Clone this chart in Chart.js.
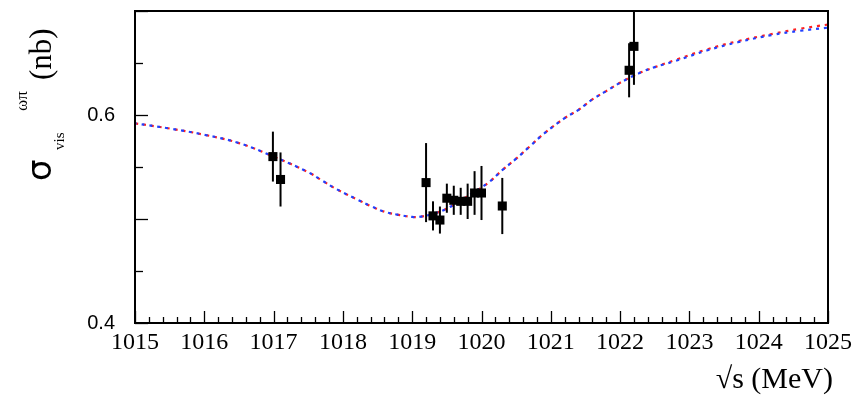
<!DOCTYPE html>
<html>
<head>
<meta charset="utf-8">
<script src="https://cdn.jsdelivr.net/npm/chart.js@4/dist/chart.umd.min.js"></script>
<style>
html,body{margin:0;padding:0;background:#fff;}
#wrap{width:862px;height:403px;}
</style>
</head>
<body>
<div id="wrap"><canvas id="c" width="862" height="403"></canvas></div>
<script>
// Model curves (sqrt(s) in MeV, visible cross section in nb)
const curveX    = [1015.0,1015.5,1016.0,1016.5,1017.0,1017.5,1017.7,1017.9,1018.2,1018.4,1018.6,1018.8,1019.0,1019.1,1019.3,1019.5,1019.8,1020.1,1020.3,1020.5,1020.7,1020.9,1021.2,1021.4,1021.6,1021.8,1022.0,1022.3,1022.5,1022.8,1023.25,1023.7,1024.2,1024.6,1025.0];
const curveRed  = [0.592,0.587,0.581,0.573,0.560,0.545,0.537,0.529,0.519,0.5125,0.507,0.504,0.502,0.502,0.505,0.510,0.522,0.535,0.547,0.558,0.570,0.582,0.597,0.605,0.615,0.623,0.631,0.641,0.646,0.653,0.663,0.671,0.678,0.683,0.687];
const curveBlue = [0.592,0.587,0.581,0.573,0.560,0.545,0.537,0.529,0.519,0.5125,0.507,0.504,0.502,0.502,0.505,0.510,0.522,0.535,0.547,0.558,0.570,0.582,0.597,0.605,0.615,0.623,0.631,0.641,0.646,0.652,0.662,0.670,0.677,0.681,0.684];
// Measured points
const pointX   = [1016.99,1017.1,1019.2,1019.3,1019.4,1019.5,1019.6,1019.7,1019.8,1019.9,1020.0,1020.3,1022.13,1022.2];
const pointY   = [0.560,0.538,0.535,0.503,0.499,0.520,0.518,0.517,0.517,0.525,0.525,0.5125,0.643,0.666];
const pointErr = [0.024,0.026,0.038,0.014,0.013,0.014,0.014,0.013,0.017,0.021,0.026,0.027,0.026,0.037];
// Axis ticks
const xMin = 1015, xMax = 1025, xStep = 1, xMinor = 0.2;
const yMin = 0.4, yMax = 0.7, yStep = 0.05;
const yLabels = [0.4, 0.6];

const toXY = (xs, ys) => xs.map((x,i)=>({x:x, y:ys[i]}));

const errorBars = {
  id:'errorBars',
  afterDatasetsDraw(chart){
    const ctx = chart.ctx, xs = chart.scales.x, ys = chart.scales.y, a = chart.chartArea;
    ctx.save();
    ctx.beginPath(); ctx.rect(a.left, a.top, a.right-a.left, a.bottom-a.top); ctx.clip();
    ctx.strokeStyle = '#000'; ctx.lineWidth = 2;
    pointX.forEach((x,i)=>{
      const px = xs.getPixelForValue(x);
      ctx.beginPath();
      ctx.moveTo(px, ys.getPixelForValue(pointY[i]-pointErr[i]));
      ctx.lineTo(px, ys.getPixelForValue(pointY[i]+pointErr[i]));
      ctx.stroke();
    });
    ctx.restore();
  }
};

const frameTicks = {
  id:'frameTicks',
  afterDraw(chart){
    const ctx = chart.ctx, xs = chart.scales.x, ys = chart.scales.y, a = chart.chartArea;
    ctx.save();
    ctx.strokeStyle = '#000'; ctx.lineWidth = 2;
    ctx.strokeRect(a.left, a.top, a.right-a.left, a.bottom-a.top);
    ctx.lineWidth = 1.3;
    const nx = Math.round((xMax-xMin)/xMinor);
    for (let i=0;i<=nx;i++){
      const v = xMin + i*xMinor;
      const px = Math.round(xs.getPixelForValue(v))+0.5;
      const major = (i % Math.round(xStep/xMinor)) === 0;
      const len = major ? 12 : 6;
      ctx.beginPath(); ctx.moveTo(px, a.bottom); ctx.lineTo(px, a.bottom-len); ctx.stroke();
    }
    const ny = Math.round((yMax-yMin)/yStep);
    for (let i=0;i<=ny;i++){
      const v = yMin + i*yStep;
      const py = Math.round(ys.getPixelForValue(v))+0.5;
      const len = (i%2===0) ? 13 : 8;
      ctx.beginPath(); ctx.moveTo(a.left, py); ctx.lineTo(a.left+len, py); ctx.stroke();
    }
    ctx.fillStyle = '#000';
    ctx.textBaseline = 'alphabetic';
    ctx.textAlign = 'right';
    ctx.font = '30px "Liberation Serif"';
    ctx.fillText('\u221As (MeV)', a.right+5, 388);
    ctx.translate(51, 181);
    ctx.rotate(-Math.PI/2);
    ctx.textAlign = 'left';
    ctx.font = '34px "DejaVu Sans"';
    ctx.fillText('\u03C3', 0, 0);
    ctx.font = '15px "Liberation Serif"';
    ctx.fillText('vis', 31, 13);
    ctx.font = '17px "Liberation Serif"';
    ctx.fillText('\u03C9\u03C0', 70, -24);
    ctx.font = '31px "Liberation Serif"';
    ctx.fillText('(nb)', 101, 0);
    ctx.restore();
  }
};

new Chart(document.getElementById('c'), {
  type:'scatter',
  data:{
    datasets:[
      {label:'red', type:'line', data:toXY(curveX, curveRed), borderColor:'#ff2020', borderWidth:2.2,
       borderDash:[3,5], borderDashOffset:0, pointRadius:0, tension:0.4, fill:false, order:3},
      {label:'blue', type:'line', data:toXY(curveX, curveBlue), borderColor:'#2040ff', borderWidth:2.2,
       borderDash:[3,5], borderDashOffset:1.5, pointRadius:0, tension:0.4, fill:false, order:2},
      {label:'data', data:toXY(pointX, pointY), backgroundColor:'#000', borderColor:'#000',
       pointStyle:'rect', pointRadius:6.4, borderWidth:0, order:1}
    ]
  },
  plugins:[errorBars, frameTicks],
  options:{
    responsive:false, animation:false, devicePixelRatio:1,
    layout:{padding:{top:11, right:34, left:0, bottom:0}},
    plugins:{legend:{display:false}, tooltip:{enabled:false}},
    scales:{
      x:{type:'linear', min:xMin, max:xMax, border:{display:false},
         grid:{display:false, drawTicks:false},
         ticks:{stepSize:xStep, autoSkip:false, maxRotation:0, padding:5, color:'#000',
                font:{family:'"Liberation Serif"', size:24}, callback:v=>String(v)},
         afterFit:s=>{s.height = 80; s.paddingLeft = 0; s.paddingRight = 0;}},
      y:{type:'linear', min:yMin, max:yMax, border:{display:false},
         grid:{display:false, drawTicks:false},
         ticks:{stepSize:yStep, autoSkip:false, padding:20, color:'#000',
                font:{family:'"Liberation Sans"', size:20},
                callback:v=> yLabels.some(l=>Math.abs(l-v)<1e-6) ? v.toFixed(1) : ''},
         afterFit:s=>{s.width = 135; s.paddingTop = 0; s.paddingBottom = 0;}}
    }
  }
});
</script>
</body>
</html>
